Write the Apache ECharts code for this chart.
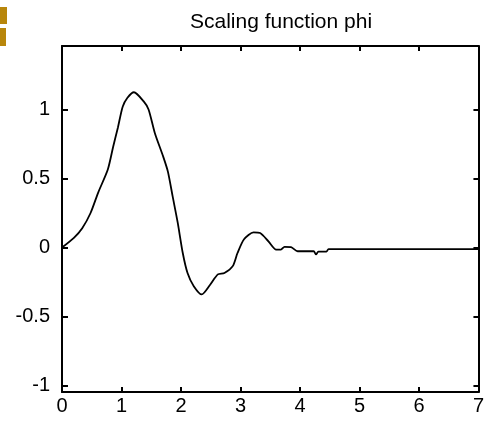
<!DOCTYPE html>
<html>
<head>
<meta charset="utf-8">
<script src="https://cdn.jsdelivr.net/npm/echarts@6/dist/echarts.min.js"></script>
<style>
html,body{margin:0;padding:0;background:#fff;}
#c{width:487px;height:423px;}
</style>
</head>
<body>
<div id="c"></div>
<script>
const titleText = "Scaling function phi";
const xValues = [0, 0.20, 0.34, 0.48, 0.61, 0.77, 0.86, 0.94, 1.02, 1.10, 1.21, 1.37, 1.455, 1.56, 1.70, 1.78, 1.86, 1.945, 2.03, 2.11, 2.215, 2.35, 2.49, 2.62, 2.73, 2.87, 2.95, 3.06, 3.22, 3.33, 3.47, 3.60, 3.68, 3.74, 3.85, 3.96, 4.23, 4.27, 4.31, 4.445, 4.48, 5.0, 6.0, 7.0];
const yValues = [0, 0.07, 0.14, 0.25, 0.40, 0.565, 0.73, 0.87, 1.02, 1.085, 1.125, 1.06, 1.0, 0.83, 0.66, 0.55, 0.37, 0.18, -0.04, -0.185, -0.28, -0.34, -0.27, -0.195, -0.185, -0.135, -0.04, 0.06, 0.11, 0.105, 0.045, -0.015, -0.015, 0.005, 0.003, -0.027, -0.027, -0.05, -0.03, -0.03, -0.012, -0.012, -0.012, -0.012];
const xTicks = [0, 1, 2, 3, 4, 5, 6, 7];
const yTicks = [-1, -0.5, 0, 0.5, 1];

const chart = echarts.init(document.getElementById('c'), null, {renderer: 'canvas'});
const font = 'Liberation Sans, Arial, sans-serif';
const axisLineStyle = {color: '#000', width: 2};
const data = xValues.map((x, i) => [x, yValues[i]]);

chart.setOption({
  animation: false,
  backgroundColor: '#fff',
  title: {
    text: titleText, left: 276, top: 7, textAlign: 'center',
    textStyle: {fontFamily: font, fontSize: 21, fontWeight: 'normal', color: '#000'}
  },
  grid: {left: 62, top: 46, width: 429, height: 346, containLabel: false},
  xAxis: [{
    type: 'value', min: 0, max: 7, interval: 1, position: 'bottom',
    axisLine: {show: true, onZero: false, lineStyle: axisLineStyle},
    axisTick: {show: true, inside: true, length: 5, lineStyle: {color: '#000', width: 2}},
    axisLabel: {show: true, color: '#000', fontFamily: font, fontSize: 20, margin: 4,
      formatter: v => String(v)},
    splitLine: {show: false}
  }, {
    type: 'value', min: 0, max: 7, interval: 1, position: 'top',
    axisLine: {show: true, onZero: false, lineStyle: axisLineStyle},
    axisTick: {show: true, inside: true, length: 5, lineStyle: {color: '#000', width: 2}},
    axisLabel: {show: false},
    splitLine: {show: false}
  }],
  yAxis: [{
    type: 'value', min: -1.047, max: 1.46, position: 'left',
    axisLine: {show: true, onZero: false, lineStyle: axisLineStyle},
    axisTick: {show: true, inside: true, length: 6, lineStyle: {color: '#000', width: 2}, customValues: yTicks},
    axisLabel: {show: true, color: '#000', fontFamily: font, fontSize: 20, margin: 12,
      customValues: yTicks, formatter: v => String(v)},
    splitLine: {show: false}
  }, {
    type: 'value', min: -1.047, max: 1.46, position: 'right',
    axisLine: {show: true, onZero: false, lineStyle: axisLineStyle},
    axisTick: {show: true, inside: true, length: 5, lineStyle: {color: '#000', width: 2}, customValues: yTicks},
    axisLabel: {show: false},
    splitLine: {show: false}
  }],
  graphic: [
    {type: 'rect', left: 0, top: 7, shape: {width: 7, height: 17}, style: {fill: '#b8860b'}},
    {type: 'rect', left: 0, top: 28, shape: {width: 6, height: 18}, style: {fill: '#b8860b'}}
  ],
  series: [{
    type: 'line', xAxisIndex: 0, yAxisIndex: 0, data: data,
    showSymbol: false, smooth: 0.25,
    lineStyle: {color: '#000', width: 1.8}
  }]
});
</script>
</body>
</html>
